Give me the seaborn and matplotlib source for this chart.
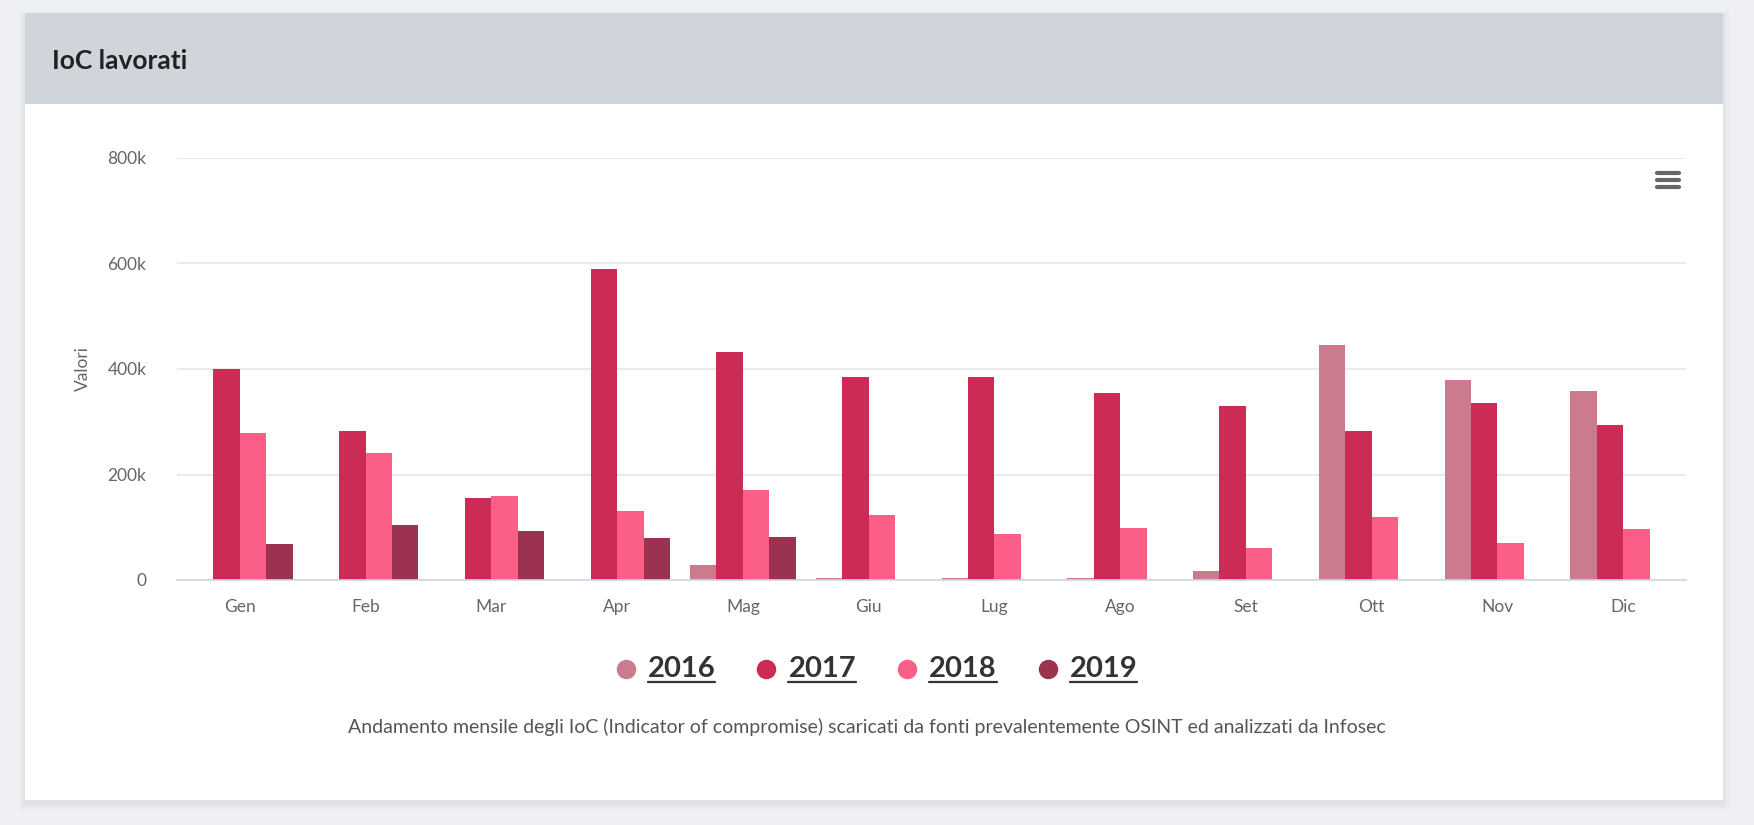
import numpy as np
import pandas as pd
import matplotlib
matplotlib.use("Agg")
import matplotlib.pyplot as plt
from matplotlib.patches import Rectangle
from matplotlib.lines import Line2D
import seaborn as sns

# ---- data -------------------------------------------------------------
mesi = ["Gen", "Feb", "Mar", "Apr", "Mag", "Giu", "Lug", "Ago", "Set", "Ott", "Nov", "Dic"]
anni = ["2016", "2017", "2018", "2019"]
v2016 = [np.nan, np.nan, np.nan, np.nan, 28000, 3000, 3000, 3000, 17000, 445000, 380000, 358000]
v2017 = [400000, 283000, 155000, 589000, 433000, 384000, 384000, 354000, 329000, 282000, 335000, 294000]
v2018 = [279000, 240000, 160000, 130000, 170000, 123000, 87000, 99000, 61000, 120000, 70000, 97000]
v2019 = [69000, 105000, 92000, 79000, 81000, np.nan, np.nan, np.nan, np.nan, np.nan, np.nan, np.nan]
colori = ["#cc7a8e", "#cc2b55", "#fb5f88", "#9b3350"]
y_ticks = [0, 200000, 400000, 600000, 800000]
y_tick_labels = ["0", "200k", "400k", "600k", "800k"]
titolo = "IoC lavorati"
didascalia = ("Andamento mensile degli IoC (Indicator of compromise) scaricati da fonti "
              "prevalentemente OSINT ed analizzati da Infosec")

df = pd.DataFrame({
    "mese": mesi * 4,
    "anno": np.repeat(anni, len(mesi)),
    "valore": v2016 + v2017 + v2018 + v2019,
})

# ---- figure -----------------------------------------------------------
sns.set_theme(style="white")
FONT = ["Lato", "DejaVu Sans"]
plt.rcParams["font.family"] = FONT

W, H = 1754, 825
fig = plt.figure(figsize=(W / 100, H / 100), dpi=100)
fig.patch.set_facecolor("#eef0f3")


def fx(px):
    return px / W


def fy(py):
    return 1 - py / H


# card shadow, body and header
for i, a in enumerate([0.03, 0.04, 0.06]):
    off = 6 - 2 * i
    fig.patches.append(Rectangle((fx(25 - off), fy(800 + off + 4)), fx(1698 + 2 * off),
                                 (787 + 2 * off) / H, transform=fig.transFigure,
                                 facecolor="#8a9099", alpha=a, edgecolor="none", zorder=0))
fig.patches.append(Rectangle((fx(25), fy(800)), fx(1698), 787 / H, transform=fig.transFigure,
                             facecolor="white", edgecolor="none", zorder=1))
fig.patches.append(Rectangle((fx(25), fy(104)), fx(1698), 91 / H, transform=fig.transFigure,
                             facecolor="#d0d4db", edgecolor="none", zorder=2))
fig.text(fx(52), fy(61), titolo, fontsize=19, fontweight="bold", color="#222222",
         va="center", ha="left", zorder=3)

# ---- bar chart --------------------------------------------------------
ax = fig.add_axes([fx(177), fy(580), fx(1686 - 177), (580 - 158) / H])
ax.set_zorder(3)
ax.patch.set_alpha(0)

sns.barplot(data=df, x="mese", y="valore", hue="anno", order=mesi, hue_order=anni,
            palette=colori, saturation=1, width=0.84, dodge=True, errorbar=None,
            linewidth=0, legend=False, ax=ax)

ax.set_xlim(-0.5, len(mesi) - 0.5)
ax.set_ylim(0, 800000)
ax.set_yticks(y_ticks)
ax.set_yticklabels(y_tick_labels)
ax.yaxis.grid(True, color="#e6e6e6", linewidth=1.2)
ax.set_axisbelow(True)
for s in ["top", "right", "left"]:
    ax.spines[s].set_visible(False)
ax.spines["bottom"].set_color("#ccd6eb")
ax.spines["bottom"].set_linewidth(1.2)
ax.tick_params(axis="y", length=0, pad=22, labelsize=12.5, labelcolor="#666666")
ax.tick_params(axis="x", which="major", length=0, pad=14, labelsize=12.5, labelcolor="#666666")
ax.set_xticks(np.arange(-0.5, len(mesi)), minor=True)
ax.tick_params(axis="x", which="minor", length=11, width=1.2, color="#ccd6eb")
ax.set_xlabel("")
ax.set_ylabel("Valori", fontsize=12.5, color="#666666", labelpad=12)

# export menu icon
for dy in (0, 7, 14):
    fig.add_artist(Line2D([fx(1657), fx(1679)], [fy(173 + dy)] * 2, color="#666666",
                          linewidth=3, solid_capstyle="round", zorder=4))

# ---- legend: coloured dots with bold underlined years -----------------
fig.canvas.draw()
renderer = fig.canvas.get_renderer()
leg_y = 669
dot_d, gap, spacing = 18, 13, 42
items = []
widths = []
for a in anni:
    t = fig.text(0, fy(leg_y), a, fontsize=21, fontweight="bold", color="#333333",
                 va="center", ha="left", zorder=4)
    widths.append(t.get_window_extent(renderer).width)
    items.append(t)
total = sum(dot_d + gap + w for w in widths) + spacing * (len(anni) - 1)
x = 877 - total / 2
for t, w, c in zip(items, widths, colori):
    fig.add_artist(Line2D([fx(x + dot_d / 2)], [fy(leg_y)], marker="o", markersize=13,
                          color=c, linestyle="none", zorder=4))
    tx = x + dot_d + gap
    t.set_x(fx(tx))
    fig.add_artist(Line2D([fx(tx), fx(tx + w)], [fy(leg_y + 13)] * 2, color="#333333",
                          linewidth=1.6, zorder=4))
    x = tx + w + spacing

fig.text(fx(867), fy(727), didascalia, fontsize=14, color="#555555",
         ha="center", va="center", zorder=4)

fig.savefig("out.png", dpi=100, facecolor=fig.get_facecolor())
